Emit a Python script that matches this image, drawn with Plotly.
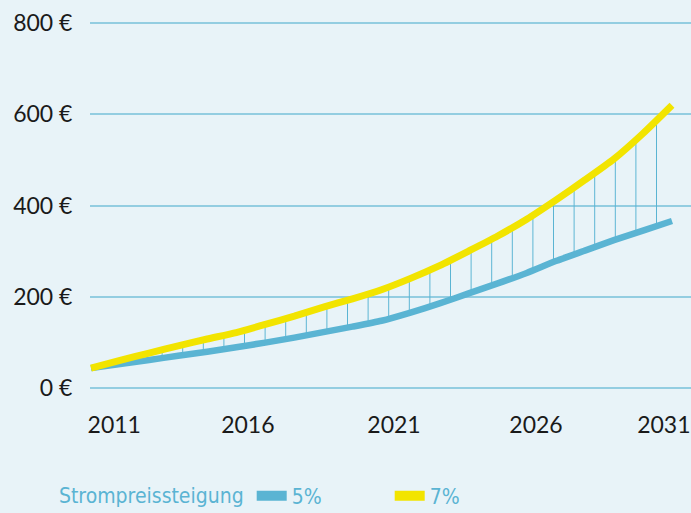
import plotly.graph_objects as go

# ---- data ----
years = list(range(2011, 2032))
cost_5 = [43, 52, 61, 70, 79, 89, 99, 110, 122, 134, 147, 165, 185, 207, 229, 252, 278, 301, 324, 345, 366]
cost_7 = [43, 60, 76, 92, 107, 121, 139, 157, 177, 195, 215, 240, 268, 300, 333, 370, 412, 456, 502, 558, 620]
series_names = ["5%", "7%"]
legend_title = "Strompreissteigung"
y_ticks = [0, 200, 400, 600, 800]
y_tick_text = ["0 €", "200 €", "400 €", "600 €", "800 €"]
x_tick_text = ["2011", "2016", "2021", "2026", "2031"]
x_tick_label_pos = [2011.8, 2016.4, 2021.43, 2026.32, 2030.72]

BG = "#e8f3f8"
BLUE = "#5ab4d3"
YELLOW = "#f2e400"
GRID = "#93cde1"
TXT = "#1a1a1a"
COND = "'Noto Sans Condensed', 'Liberation Sans Narrow', 'DejaVu Sans Condensed', 'Noto Sans', sans-serif"

fig = go.Figure()

fig.add_trace(go.Scatter(
    x=years, y=cost_5, mode="lines", name=series_names[0],
    line=dict(color=BLUE, width=6.5, shape="spline", smoothing=0.6),
    showlegend=False, hoverinfo="x+y",
))
fig.add_trace(go.Scatter(
    x=years, y=cost_7, mode="lines", name=series_names[1],
    line=dict(color=YELLOW, width=7, shape="spline", smoothing=0.6),
    fill="tonexty", fillcolor="rgba(0,0,0,0)",
    fillpattern=dict(shape="|", size=20.6, solidity=0.05,
                     fgcolor=BLUE, bgcolor="rgba(0,0,0,0)", fillmode="replace"),
    showlegend=False, hoverinfo="x+y",
))
# legend entries
for name, col in zip(series_names, [BLUE, YELLOW]):
    fig.add_trace(go.Scatter(
        x=[None], y=[None], mode="lines", name=name,
        line=dict(color=col, width=10), showlegend=True,
    ))

fig.update_layout(
    width=691, height=513,
    paper_bgcolor=BG, plot_bgcolor=BG,
    margin=dict(l=90, r=0, t=20.7, b=122.7, autoexpand=False),
    font=dict(family="Lato, 'Open Sans', sans-serif", size=23, color=TXT),
    showlegend=True,
    legend=dict(
        orientation="h", x=-0.055, xanchor="left", y=-0.232, yanchor="top",
        traceorder="normal",
        title=dict(text=legend_title, side="left",
                   font=dict(family=COND, size=21, color=BLUE)),
        font=dict(family=COND, size=21, color=BLUE),
        entrywidth=93, entrywidthmode="pixels",
        bgcolor="rgba(0,0,0,0)",
    ),
    xaxis=dict(
        range=[2010.966, 2031.654],
        tickvals=x_tick_label_pos, ticktext=x_tick_text,
        showgrid=False, zeroline=False, showline=False,
        ticks="outside", ticklen=14, tickcolor="rgba(0,0,0,0)",
        tickfont=dict(size=23, color=TXT),
        ticklabeloverflow="allow",
        fixedrange=True,
    ),
    yaxis=dict(
        range=[-5, 805], tickvals=y_ticks, ticktext=y_tick_text,
        showgrid=True, gridcolor=GRID, gridwidth=1.5,
        zeroline=False, showline=False,
        ticks="outside", ticklen=12, tickcolor="rgba(0,0,0,0)",
        tickfont=dict(size=23, color=TXT),
        fixedrange=True,
    ),
)

fig.write_html("out.html", config={"displayModeBar": False},
               post_script="document.body.style.margin='0';document.body.style.overflow='hidden';")
